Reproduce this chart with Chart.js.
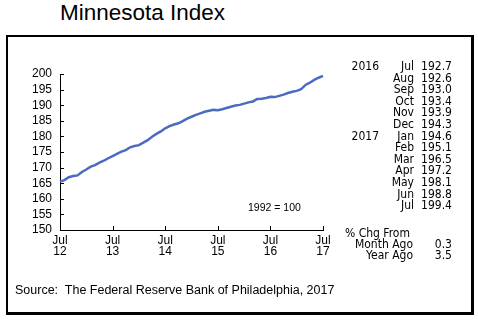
<!DOCTYPE html>
<html>
<head>
<meta charset="utf-8">
<script src="https://cdn.jsdelivr.net/npm/chart.js@4.4.1/dist/chart.umd.min.js"></script>
<style>
  html, body { margin: 0; padding: 0; background: #fff; }
  body { width: 478px; height: 325px; position: relative; overflow: hidden;
         font-family: 'Liberation Sans', Arial, sans-serif; color: #000; }
  #frame { position: absolute; left: 6px; top: 35px; width: 463px; height: 275px;
           border-style: solid; border-color: #000; border-width: 2px 3px 3px 2px; }
  #title { position: absolute; left: 60px; top: 2px; font-size: 22.5px; line-height: 22px; white-space: nowrap; }
  #chartBox { position: absolute; left: 0; top: 0; width: 478px; height: 325px; }
  .side { position: absolute; font-family: 'Liberation Sans Narrow', 'DejaVu Sans Condensed', 'Liberation Sans', sans-serif;
          font-size: 12px; line-height: 12px; white-space: nowrap; }
  .r { text-align: right; }
  #source { position: absolute; left: 15px; top: 283px; font-size: 12.5px; line-height: 14px; white-space: nowrap; }
  #base { position: absolute; left: 248px; top: 201px; font-size: 10.5px; line-height: 12px; white-space: nowrap; }
</style>
</head>
<body>
<div id="frame"></div>
<div id="title">Minnesota Index</div>
<div id="chartBox"><canvas id="chart" width="478" height="325"></canvas></div>
<div id="base">1992 = 100</div>
<div id="side"></div>
<div id="source">Source:&nbsp; The Federal Reserve Bank of Philadelphia, 2017</div>
<script>
// Monthly index, July 2012 through July 2017 (1992 = 100)
const monthNames = ['Jul','Aug','Sep','Oct','Nov','Dec','Jan','Feb','Mar','Apr','May','Jun'];
const startYears = ['12','13','14','15','16'];
const lastLabel = 'Jul 17';

const indexValues = [
  165.5, 166.0, 166.9, 167.3, 167.5, 168.6, 169.4, 170.3, 170.8, 171.6, 172.2, 173.0,
  173.7, 174.4, 175.1, 175.6, 176.5, 176.9, 177.2, 178.0, 178.8, 179.9, 180.8, 181.6,
  182.6, 183.3, 183.8, 184.2, 184.9, 185.7, 186.3, 186.9, 187.4, 187.9, 188.2, 188.5,
  188.4, 188.7, 189.1, 189.5, 189.9, 190.1, 190.5, 190.9, 191.2, 192.0, 192.1, 192.3,
  192.7, 192.6, 193.0, 193.4, 193.9, 194.3, 194.6, 195.1, 196.5, 197.2, 198.1, 198.8,
  199.4
];

// Side table: last 13 months and percent changes
const tableYears  = ['2016', '', '', '', '', '', '2017', '', '', '', '', '', ''];
const tableMonths = ['Jul','Aug','Sep','Oct','Nov','Dec','Jan','Feb','Mar','Apr','May','Jun','Jul'];
const tableValues = ['192.7','192.6','193.0','193.4','193.9','194.3','194.6','195.1','196.5','197.2','198.1','198.8','199.4'];
const changeLabels = ['Month Ago', 'Year Ago'];
const changeValues = ['0.3', '3.5'];

const yTicks = { min: 150, max: 200, step: 5 };

// Category labels: one per month
const categories = [];
startYears.forEach(function (yy) {
  monthNames.forEach(function (m, mi) {
    const year = mi < 6 ? yy : String(Number(yy) + 1).padStart(2, '0');
    categories.push(m + ' ' + year);
  });
});
categories.push(lastLabel);

// Build the side table
const side = document.getElementById('side');
function addText(text, left, top, right) {
  const d = document.createElement('div');
  d.className = 'side' + (right ? ' r' : '');
  d.textContent = text;
  if (right) { d.style.right = (478 - left) + 'px'; } else { d.style.left = left + 'px'; }
  d.style.top = top + 'px';
  side.appendChild(d);
}
tableMonths.forEach(function (m, i) {
  const top = 60 + 11.6 * i;
  if (tableYears[i]) addText(tableYears[i], 379, top, true);
  addText(m, 414, top, true);
  addText(tableValues[i], 452, top, true);
});
addText('% Chg From', 345, 227, false);
changeLabels.forEach(function (lab, i) {
  const top = 238 + 11 * i;
  addText(lab, 413, top, true);
  addText(changeValues[i], 452, top, true);
});

// Short tick marks drawn on the inner side of both axes
const innerTicks = {
  id: 'innerTicks',
  afterDatasetsDraw(chart) {
    const ctx = chart.ctx;
    const xs = chart.scales.x, ys = chart.scales.y;
    ctx.save();
    ctx.strokeStyle = '#000';
    ctx.lineWidth = 1;
    ctx.beginPath();
    for (let i = 0; i < categories.length; i += 12) {
      const x = Math.round(xs.getPixelForValue(i)) + 0.5;
      ctx.moveTo(x, ys.bottom);
      ctx.lineTo(x, ys.bottom - 4);
    }
    ys.ticks.forEach(function (t, i) {
      const y = Math.round(ys.getPixelForTick(i)) + 0.5;
      ctx.moveTo(xs.left, y);
      ctx.lineTo(xs.left + 4, y);
    });
    ctx.stroke();
    ctx.restore();
  }
};

Chart.defaults.font.family = "'Liberation Sans', Arial, sans-serif";
Chart.defaults.font.size = 12;
Chart.defaults.color = '#000';

new Chart(document.getElementById('chart'), {
  type: 'line',
  data: {
    labels: categories,
    datasets: [{
      data: indexValues,
      borderColor: '#4a6bbf',
      borderWidth: 2.5,
      pointRadius: 0,
      tension: 0,
      fill: false
    }]
  },
  options: {
    responsive: false,
    animation: false,
    events: [],
    layout: { padding: { left: 20, right: 155, top: 74, bottom: 65 } },
    plugins: { legend: { display: false }, tooltip: { enabled: false } },
    scales: {
      x: {
        offset: false,
        grid: { display: false, drawTicks: false },
        border: { display: true, color: '#000', width: 1 },
        afterFit(scale) { scale.height = 30; },
        ticks: {
          autoSkip: false,
          maxRotation: 0,
          padding: 5,
          font: { size: 12, lineHeight: 0.95 },
          callback(value, index) {
            if (index % 12 !== 0) return null;
            const parts = categories[index].split(' ');
            return [parts[0], parts[1]];
          }
        }
      },
      y: {
        min: yTicks.min,
        max: yTicks.max,
        grid: { display: false, drawTicks: false },
        border: { display: true, color: '#000', width: 1 },
        afterFit(scale) { scale.width = 40; },
        ticks: { stepSize: yTicks.step, autoSkip: false, padding: 8, font: { size: 12 } }
      }
    }
  },
  plugins: [innerTicks]
});
</script>
</body>
</html>
